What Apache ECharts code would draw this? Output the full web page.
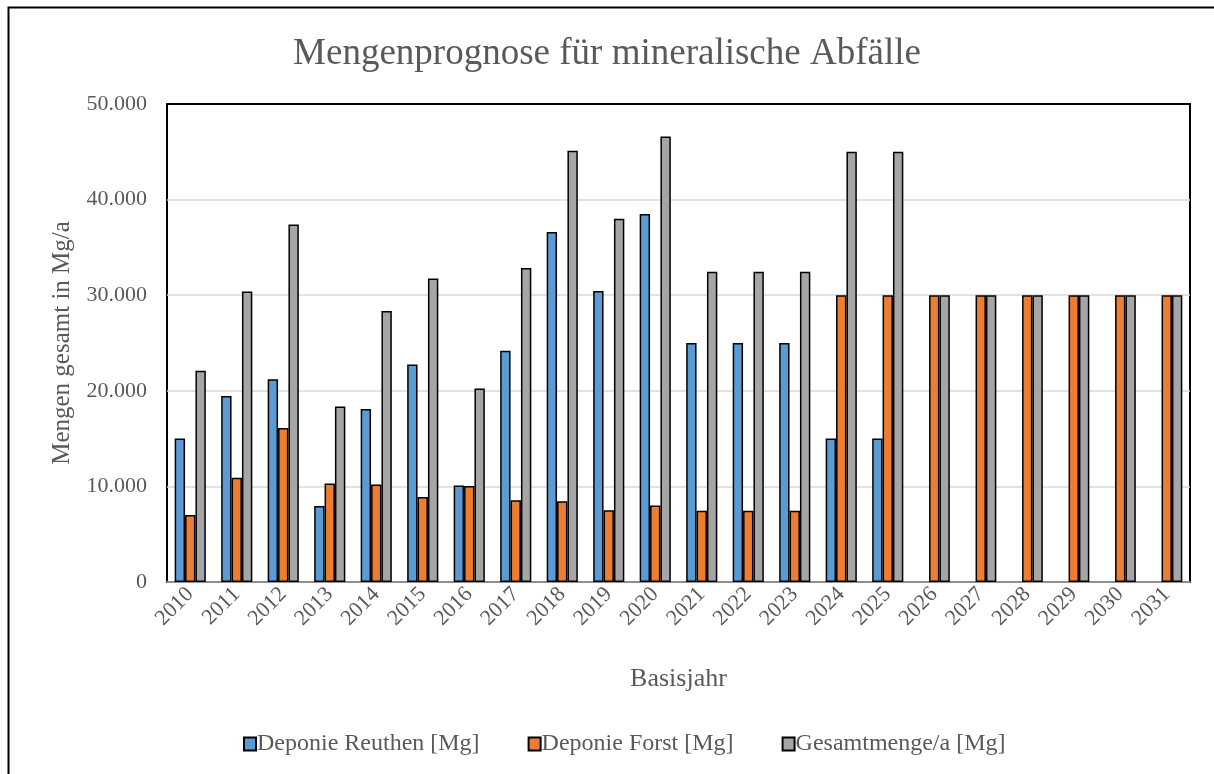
<!DOCTYPE html>
<html>
<head>
<meta charset="utf-8">
<script src="https://cdn.jsdelivr.net/npm/echarts@6/dist/echarts.min.js"></script>
<style>
  html, body { margin: 0; padding: 0; background: #fff; }
  #main { width: 1214px; height: 774px; }
</style>
</head>
<body>
<div id="main"></div>
<script>
// Basisjahre
var years = ['2010', '2011', '2012', '2013', '2014', '2015', '2016', '2017', '2018', '2019', '2020',
             '2021', '2022', '2023', '2024', '2025', '2026', '2027', '2028', '2029', '2030', '2031'];
// Werte in Mg
var reuthen = [15000, 19450, 21200, 7950, 18100, 22750, 10100, 24200, 36600, 30450, 38500,
               25000, 25000, 25000, 15000, 15000, null, null, null, null, null, null];
var forst = [7000, 10900, 16100, 10300, 10200, 8900, 10050, 8550, 8450, 7500, 8000,
             7450, 7450, 7450, 30000, 30000, 30000, 30000, 30000, 30000, 30000, 30000];
var gesamt = [22100, 30400, 37400, 18350, 28350, 31750, 20250, 32850, 45100, 38000, 46600,
              32450, 32450, 32450, 45000, 45000, 30000, 30000, 30000, 30000, 30000, 30000];
var seriesNames = ['Deponie Reuthen [Mg]', 'Deponie Forst [Mg]', 'Gesamtmenge/a [Mg]'];

var font = 'Liberation Serif';
var grey = '#595959';

// Tausenderpunkt
function fmt(v){
    return String(v).replace(/\B(?=(\d{3})+(?!\d))/g, '.');
}

function bar(name, data, color){
    return {
        name: name,
        type: 'bar',
        data: data,
        barGap: '0%',
        barCategoryGap: '33%',
        itemStyle: { color: color, borderColor: '#000', borderWidth: 1.5 }
    };
}

var myChart = echarts.init(document.getElementById('main'));
var option = {
    backgroundColor: '#fff',
    animation: false,
    textStyle: { fontFamily: font },
    title: {
        text: 'Mengenprognose für mineralische Abfälle',
        left: 'center',
        top: 31,
        textStyle: { fontFamily: font, fontSize: 37, fontWeight: 'normal', color: grey }
    },
    graphic: [
        { type: 'rect', shape: { x: 8.5, y: 7.5, width: 1300, height: 900 },
          style: { fill: 'none', stroke: '#000', lineWidth: 2 }, silent: true }
    ],
    legend: {
        bottom: 13,
        left: 238,
        itemWidth: 12,
        itemHeight: 13,
        itemGap: 48,
        icon: 'rect',
        textStyle: { fontFamily: font, fontSize: 24, color: grey, padding: [0, 0, 0, -4] },
        data: seriesNames
    },
    grid: {
        left: 167,
        right: 24,
        top: 104,
        bottom: 192,
        show: true,
        borderColor: '#000',
        borderWidth: 2,
        containLabel: false
    },
    xAxis: {
        type: 'category',
        data: years,
        name: 'Basisjahr',
        nameLocation: 'middle',
        nameGap: 84,
        nameTextStyle: { fontFamily: font, fontSize: 26, color: grey },
        axisLine: { lineStyle: { color: '#bfbfbf', width: 1.5 } },
        axisTick: { show: false },
        axisLabel: { rotate: 45, margin: 9, fontFamily: font, fontSize: 22, color: grey, interval: 0 }
    },
    yAxis: {
        type: 'value',
        min: 0,
        max: 50000,
        interval: 10000,
        name: 'Mengen gesamt in Mg/a',
        nameLocation: 'middle',
        nameGap: 92,
        nameTextStyle: { fontFamily: font, fontSize: 25, color: grey },
        axisLine: { show: false },
        axisTick: { show: false },
        splitLine: { showMinLine: false, showMaxLine: false, lineStyle: { color: '#d9d9d9', width: 1.5 } },
        axisLabel: { margin: 20, fontFamily: font, fontSize: 22, color: grey, formatter: fmt }
    },
    series: [
        bar(seriesNames[0], reuthen, '#5B9BD5'),
        bar(seriesNames[1], forst, '#ED7D31'),
        bar(seriesNames[2], gesamt, '#A5A5A5')
    ]
};
window.onresize = myChart.resize;
myChart.setOption(option);
</script>
</body>
</html>
